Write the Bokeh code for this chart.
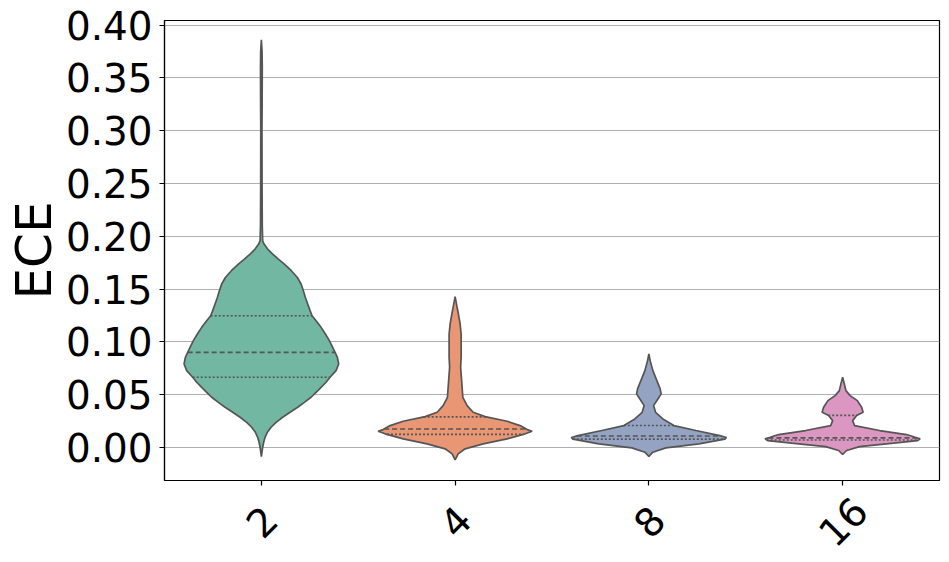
import math
import numpy as np
from bokeh.plotting import figure
from bokeh.models import FactorRange, Range1d, FixedTicker, PrintfTickFormatter
from bokeh.core.properties import value
from bokeh.embed import file_html
from bokeh.resources import INLINE

# ---------------- data ----------------
categories = ["2", "4", "8", "16"]
y_ticks = [0.00, 0.05, 0.10, 0.15, 0.20, 0.25, 0.30, 0.35, 0.40]

# density outline of each violin: ECE value and half width (category units)
y_2 = [-0.0085, 0.0003, 0.0050, 0.0097, 0.0145, 0.0192, 0.0239, 0.0287, 0.0334, 0.0381,
       0.0428, 0.0476, 0.0523, 0.0570, 0.0618, 0.0665, 0.0728, 0.0791, 0.0854, 0.0901,
       0.0949, 0.1012, 0.1075, 0.1138, 0.1201, 0.1248, 0.1296, 0.1359, 0.1421, 0.1485,
       0.1548, 0.1610, 0.1674, 0.1737, 0.1784, 0.1832, 0.1879, 0.1926, 0.1957, 0.21,
       0.25, 0.30, 0.33, 0.36, 0.375, 0.386]
w_2 = [0.0, 0.0067, 0.0119, 0.0191, 0.031, 0.0501, 0.0759, 0.1099, 0.1481, 0.1874,
       0.2219, 0.2565, 0.2823, 0.3081, 0.3339, 0.3546, 0.3855, 0.399, 0.3923, 0.3804,
       0.368, 0.351, 0.3303, 0.3081, 0.2823, 0.2617, 0.2514, 0.239, 0.2271, 0.2168,
       0.2049, 0.1858, 0.1548, 0.1187, 0.0877, 0.0583, 0.0325, 0.0139, 0.0067, 0.0046,
       0.0036, 0.0031, 0.0041, 0.0046, 0.0036, 0.0]

y_4 = [-0.0117, -0.006, -0.0012, 0.0035, 0.0082, 0.013, 0.0154, 0.017, 0.0208, 0.0249,
       0.0293, 0.0334, 0.0397, 0.0476, 0.0634, 0.0759, 0.0854, 0.0981, 0.1075, 0.117,
       0.1264, 0.1327, 0.1428]
w_4 = [0.0, 0.0155, 0.0516, 0.1445, 0.2684, 0.3613, 0.3974, 0.3716, 0.3355, 0.2684,
       0.1548, 0.0929, 0.0619, 0.0397, 0.0335, 0.0284, 0.031, 0.031, 0.031, 0.0258,
       0.017, 0.0103, 0.0]

y_8 = [-0.0085, -0.0044, -0.0003, 0.0035, 0.0079, 0.0095, 0.0113, 0.0161, 0.0208, 0.0271,
       0.0334, 0.0397, 0.046, 0.0508, 0.0555, 0.0634, 0.0728, 0.0823, 0.0886]
w_8 = [0.0, 0.0206, 0.0877, 0.2581, 0.3923, 0.400, 0.3665, 0.2426, 0.129, 0.0723,
       0.0346, 0.0243, 0.0465, 0.0635, 0.0583, 0.0413, 0.0206, 0.0067, 0.0]

y_16 = [-0.0066, -0.0028, 0.0009, 0.0041, 0.0066, 0.0082, 0.0097, 0.0123, 0.0161, 0.0208,
        0.0255, 0.0303, 0.0334, 0.0381, 0.0444, 0.0492, 0.0539, 0.0602, 0.0665]
w_16 = [0.0, 0.0206, 0.0877, 0.2632, 0.3871, 0.400, 0.3742, 0.3303, 0.191, 0.0619,
        0.0516, 0.0723, 0.1058, 0.0981, 0.0759, 0.0387, 0.017, 0.0088, 0.0]

# quartiles (Q1, median, Q3)
q1_vals = [0.0665, 0.0125, 0.0080, 0.0072]
median_vals = [0.0901, 0.0175, 0.0110, 0.0092]
q3_vals = [0.1248, 0.0290, 0.0208, 0.0305]

profiles_y = [y_2, y_4, y_8, y_16]
profiles_w = [w_2, w_4, w_8, w_16]
colors = ["#71b7a1", "#e99675", "#95a3c3", "#db96c1"]
edge = "#555555"

Y0, Y1 = -0.0312, 0.4043

# ---------------- figure ----------------
p = figure(x_range=FactorRange(factors=categories), y_range=Range1d(Y0, Y1),
           width=945, height=558, output_backend="svg", toolbar_location=None,
           min_border_left=164, min_border_right=6, min_border_top=20, min_border_bottom=78)

p.background_fill_color = "white"
p.border_fill_color = "white"
p.outline_line_color = "black"
p.outline_line_width = 1.2
p.outline_line_alpha = 1.0

p.xgrid.visible = False
p.ygrid.grid_line_color = "#b0b0b0"
p.ygrid.grid_line_width = 1
p.ygrid.ticker = FixedTicker(ticks=y_ticks)

p.yaxis.ticker = FixedTicker(ticks=y_ticks)
p.yaxis.formatter = PrintfTickFormatter(format="%.2f")

for ax in (p.xaxis, p.yaxis):
    ax.axis_line_color = "black"
    ax.axis_line_width = 1.2
    ax.major_tick_line_color = "black"
    ax.major_tick_line_width = 1.2
    ax.major_tick_out = 5
    ax.major_tick_in = 0
    ax.minor_tick_line_color = None
    ax.major_label_text_font = "DejaVu Sans"
    ax.major_label_text_font_size = "38.9px"
    ax.major_label_text_color = "black"
    ax.major_label_standoff = 7

# x tick labels: centred, 45-degree rotated text below each tick (overlay level, not clipped)
p.xaxis.major_label_text_color = None
frame_h = 558 - 20 - 78
label_y = Y0 - 41 * (Y1 - Y0) / frame_h
p.text(x=[i + 0.5 for i in range(len(categories))], y=[label_y] * len(categories),
       text=categories, angle=math.pi / 4, text_align="center", text_baseline="middle",
       text_font=value("DejaVu Sans"), text_font_size=value("38.9px"), text_color="black",
       level="overlay")

p.yaxis.axis_label = "ECE"
p.yaxis.axis_label_text_font = "DejaVu Sans"
p.yaxis.axis_label_text_font_size = "50px"
p.yaxis.axis_label_text_font_style = "normal"
p.yaxis.axis_label_text_color = "black"
p.yaxis.axis_label_standoff = 0

# ---------------- violins ----------------
for i, (ys, ws) in enumerate(zip(profiles_y, profiles_w)):
    c = i + 0.5
    ys = np.array(ys)
    ws = np.array(ws)
    xs = np.concatenate([c - ws, (c + ws)[::-1]])
    yy = np.concatenate([ys, ys[::-1]])
    p.patch(xs, yy, fill_color=colors[i], fill_alpha=1.0, line_color=edge, line_width=1.7)

    for q, dash in ((q1_vals[i], "2 2"), (median_vals[i], "5 3"), (q3_vals[i], "2 2")):
        hw = float(np.interp(q, ys, ws))
        p.segment(x0=[c - hw], y0=[q], x1=[c + hw], y1=[q], line_color=edge,
                  line_width=1.6, line_dash=dash)

open("out.html", "w").write(file_html(p, INLINE))
